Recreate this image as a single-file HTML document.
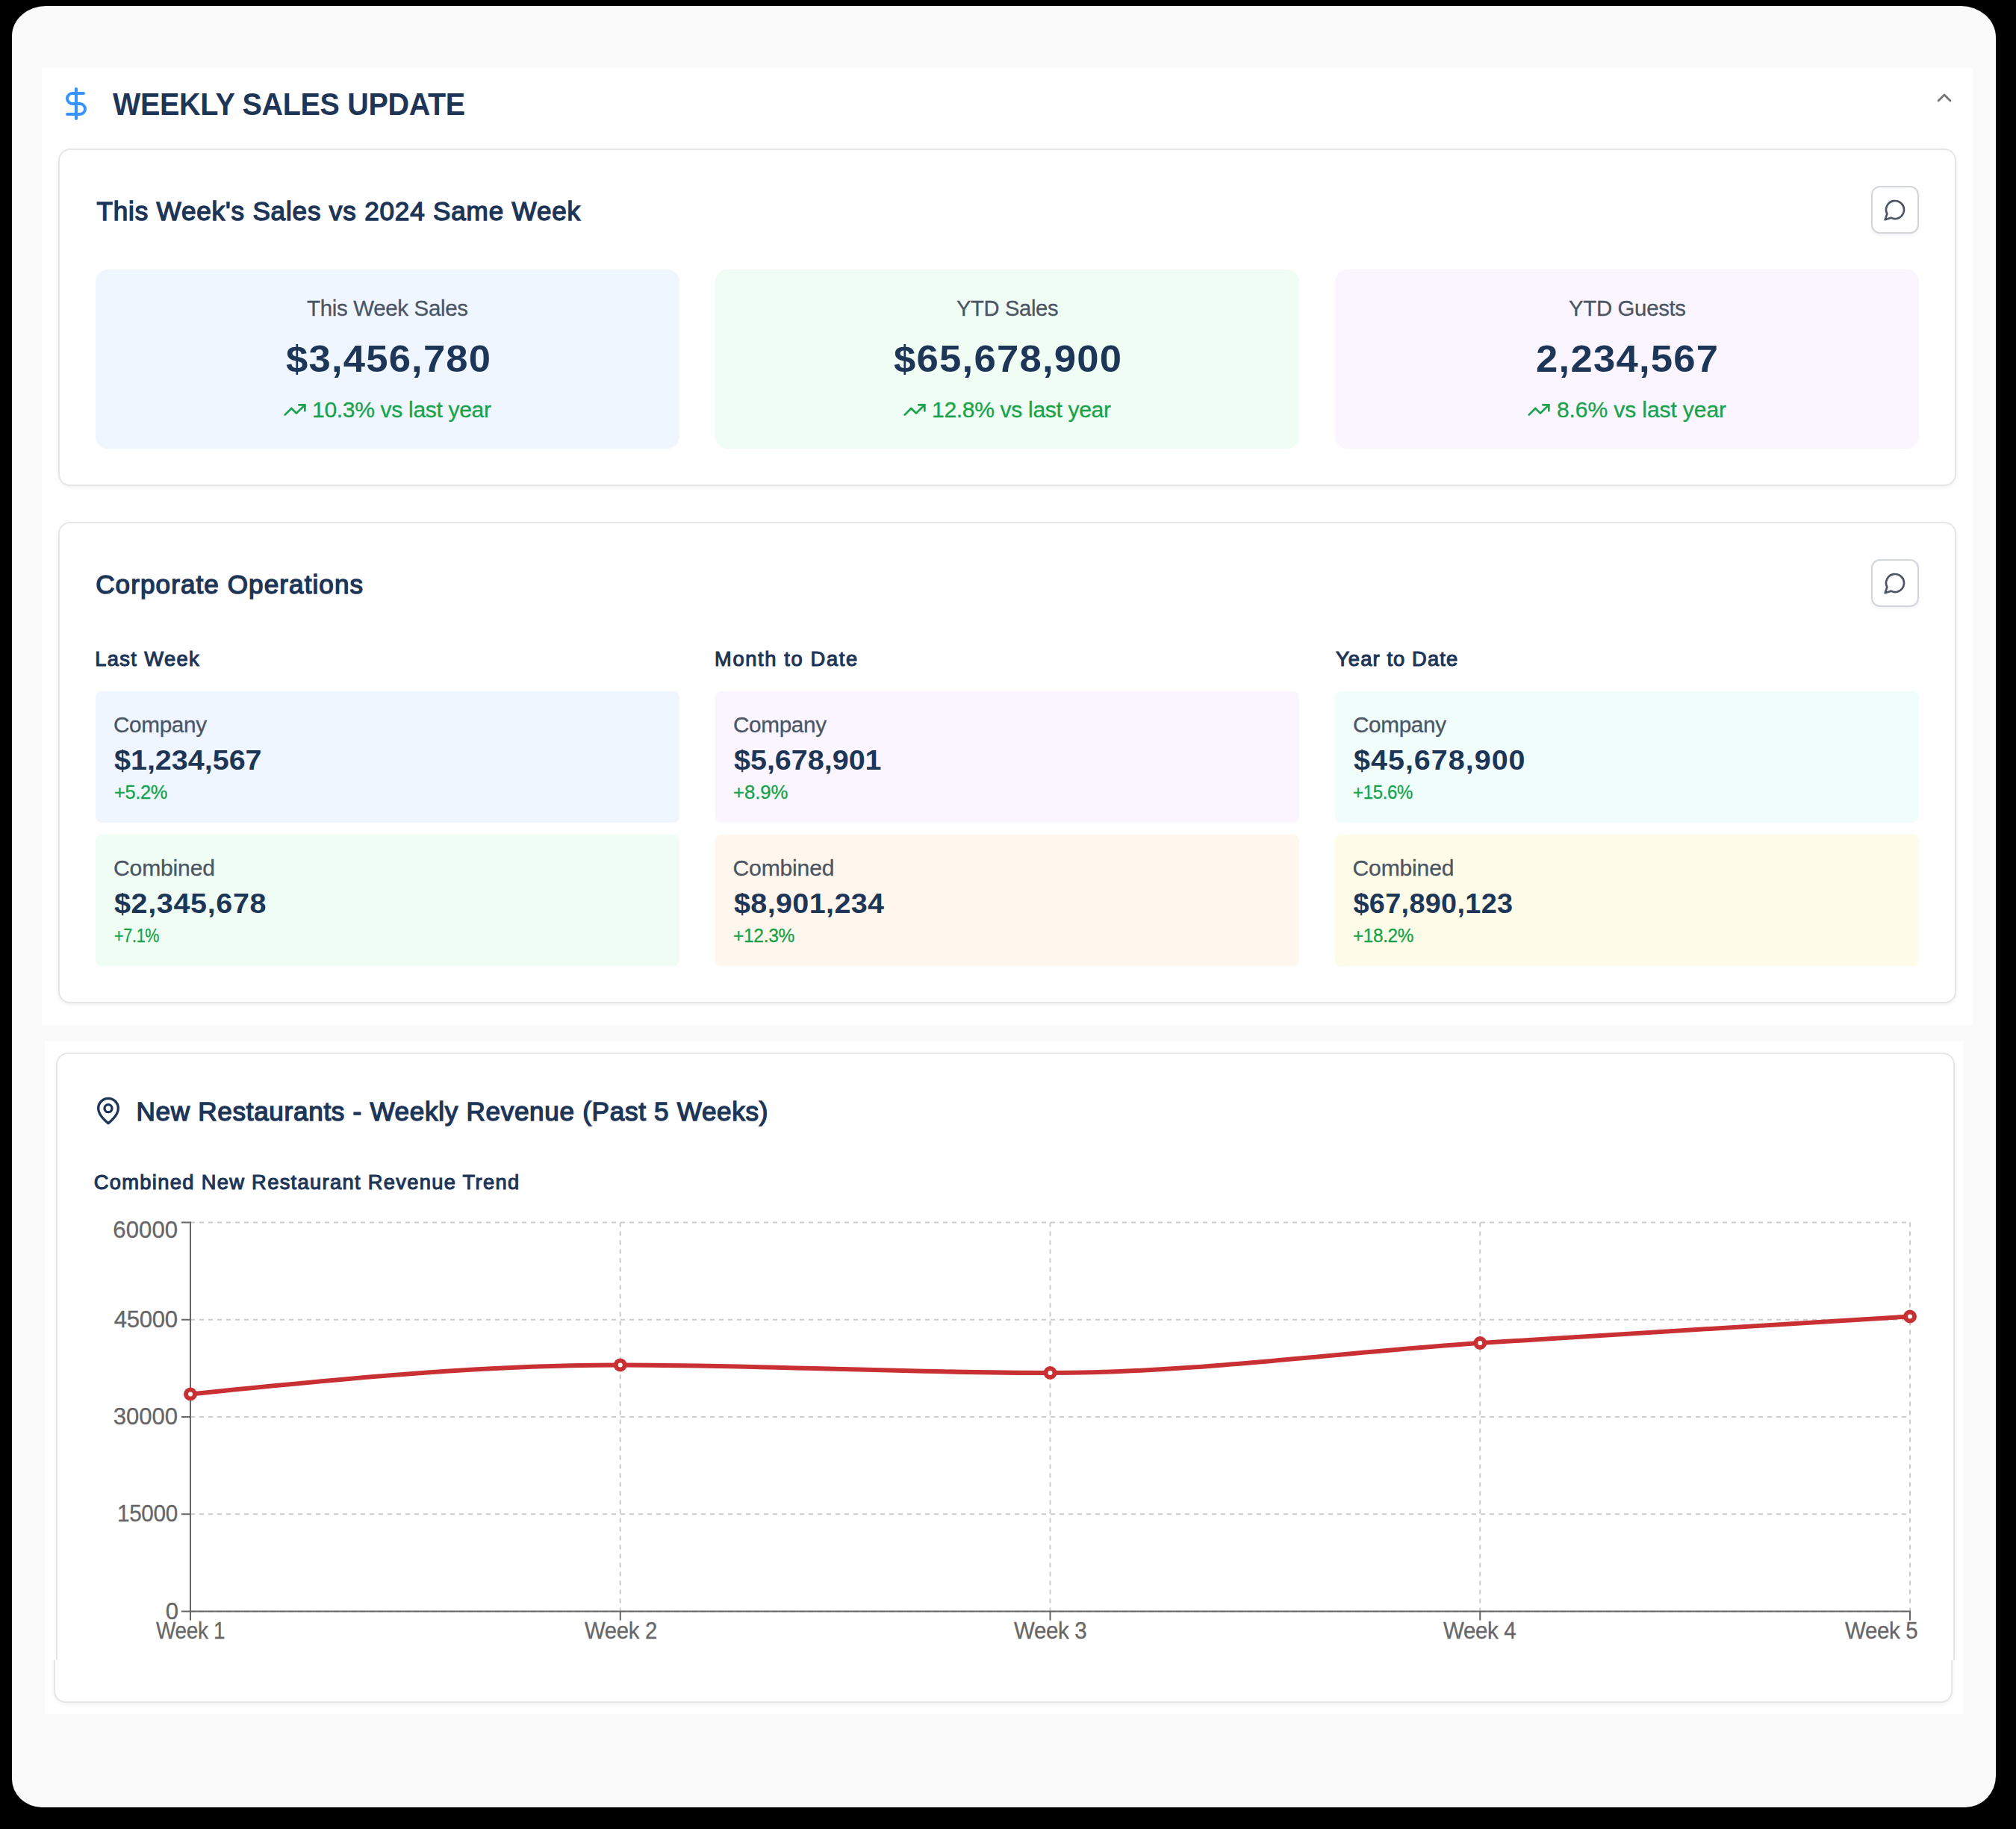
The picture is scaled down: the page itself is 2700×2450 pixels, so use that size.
<!DOCTYPE html>
<html lang="en"><head><meta charset="utf-8"><title>Weekly Sales Update</title>
<style>
html,body{margin:0;padding:0}
body{width:2700px;height:2450px;background:#000;position:relative;overflow:hidden;font-family:"Liberation Sans",sans-serif}
.page{position:absolute;left:16px;top:8px;width:2657px;height:2413px;background:#fafafa;border-radius:46px 47px 41px 40px / 40px 42px 42px 38px}
.sec{position:absolute;background:#fff}
.card{position:absolute;background:#fff;border:2px solid #e6e6e6;border-radius:16px;box-shadow:0 2px 5px rgba(0,0,0,.06)}
.bx{position:absolute}
.btn{position:absolute;width:60px;height:60px;border:2px solid #d2d6dc;border-radius:12px;background:#fff;box-shadow:0 2px 4px rgba(0,0,0,.06)}
.t{position:absolute;margin:0;padding:0;font-weight:400;white-space:nowrap;line-height:1;transform-origin:0 0}
.ic,.chart{position:absolute;overflow:visible}
.chart{left:0;top:0}
</style></head><body>
<main>
<div class="page"></div>
<section aria-label="Weekly sales update">
<div class="sec" style="left:55.5px;top:91px;width:2586.5px;height:1282px"></div>
<header>
<svg class="ic" style="left:77.60px;top:115.30px" width="48" height="48" viewBox="0 0 24 24" fill="none" stroke="#3794ff" stroke-width="2" stroke-linecap="round" stroke-linejoin="round"><line x1="12" y1="2" x2="12" y2="22"/><path d="M17 5H9.5a3.5 3.5 0 0 0 0 7h5a3.5 3.5 0 0 1 0 7H6"/></svg>
<h1 class="t" style="left:150.50px;top:118.89px;font-size:42.00px;letter-spacing:-0.350px;color:#1d3557;font-weight:700;transform:scaleX(0.9413);">WEEKLY SALES UPDATE</h1>
<svg class="ic" style="left:2587.60px;top:115.10px" width="32" height="32" viewBox="0 0 24 24" fill="none" stroke="#737373" stroke-width="2" stroke-linecap="round" stroke-linejoin="round"><path d="m18 15-6-6-6 6"/></svg>
</header>
<article>
<div class="card" style="left:78.00px;top:199.20px;width:2538.00px;height:448.10px;"></div>
<div class="btn" style="left:2506px;top:249px"></div>
<svg class="ic" style="left:2521.70px;top:265.30px" width="32" height="32" viewBox="0 0 24 24" fill="none" stroke="#4b5563" stroke-width="2" stroke-linecap="round" stroke-linejoin="round"><path d="M7.9 20A9 9 0 1 0 4 16.1L2 22Z"/></svg>
<div class="bx" style="left:127.75px;top:361.25px;width:781.75px;height:239.75px;background:#eff6ff;border-radius:16px"></div>
<div class="bx" style="left:957.50px;top:361.25px;width:782.00px;height:239.75px;background:#f0fdf4;border-radius:16px"></div>
<div class="bx" style="left:1787.50px;top:361.25px;width:782.00px;height:239.75px;background:#faf5ff;border-radius:16px"></div>
<svg class="ic" style="left:378.70px;top:532.75px" width="32" height="32" viewBox="0 0 24 24" fill="none" stroke="#16a34a" stroke-width="2" stroke-linecap="round" stroke-linejoin="round"><polyline points="22 7 13.5 15.5 8.5 10.5 2 17"/><polyline points="16 7 22 7 22 13"/></svg>
<svg class="ic" style="left:1208.70px;top:532.75px" width="32" height="32" viewBox="0 0 24 24" fill="none" stroke="#16a34a" stroke-width="2" stroke-linecap="round" stroke-linejoin="round"><polyline points="22 7 13.5 15.5 8.5 10.5 2 17"/><polyline points="16 7 22 7 22 13"/></svg>
<svg class="ic" style="left:2044.70px;top:532.75px" width="32" height="32" viewBox="0 0 24 24" fill="none" stroke="#16a34a" stroke-width="2" stroke-linecap="round" stroke-linejoin="round"><polyline points="22 7 13.5 15.5 8.5 10.5 2 17"/><polyline points="16 7 22 7 22 13"/></svg>
<h2 class="t" style="left:129.44px;top:264.54px;font-size:35.10px;letter-spacing:0.827px;color:#1d3557;-webkit-text-stroke:1.39px #1d3557;">This Week&#39;s Sales vs 2024 Same Week</h2>
<p class="t" style="left:411.25px;top:397.96px;font-size:30.10px;letter-spacing:-0.350px;color:#4b5563;-webkit-text-stroke:0.30px #4b5563;transform:scaleX(0.9805);">This Week Sales</p>
<p class="t" style="left:382.50px;top:455.73px;font-size:50.40px;letter-spacing:1.124px;color:#1d3557;font-weight:700;transform:scaleX(1.0450);">$3,456,780</p>
<p class="t" style="left:418.00px;top:534.21px;font-size:30.10px;letter-spacing:-0.345px;color:#16a34a;-webkit-text-stroke:0.30px #16a34a;">10.3% vs last year</p>
<p class="t" style="left:1281.00px;top:397.96px;font-size:30.10px;letter-spacing:-0.350px;color:#4b5563;-webkit-text-stroke:0.30px #4b5563;transform:scaleX(0.9680);">YTD Sales</p>
<p class="t" style="left:1197.00px;top:455.73px;font-size:50.40px;letter-spacing:1.175px;color:#1d3557;font-weight:700;transform:scaleX(1.0450);">$65,678,900</p>
<p class="t" style="left:1248.00px;top:534.21px;font-size:30.10px;letter-spacing:-0.345px;color:#16a34a;-webkit-text-stroke:0.30px #16a34a;">12.8% vs last year</p>
<p class="t" style="left:2101.00px;top:397.96px;font-size:30.10px;letter-spacing:-0.350px;color:#4b5563;-webkit-text-stroke:0.30px #4b5563;transform:scaleX(0.9769);">YTD Guests</p>
<p class="t" style="left:2057.45px;top:455.73px;font-size:50.40px;letter-spacing:1.184px;color:#1d3557;font-weight:700;transform:scaleX(1.0450);">2,234,567</p>
<p class="t" style="left:2085.00px;top:534.21px;font-size:30.10px;letter-spacing:-0.133px;color:#16a34a;-webkit-text-stroke:0.30px #16a34a;">8.6% vs last year</p>
</article>
<article>
<div class="card" style="left:78.00px;top:699.30px;width:2538.00px;height:640.50px;"></div>
<div class="btn" style="left:2506px;top:749px"></div>
<svg class="ic" style="left:2521.70px;top:765.30px" width="32" height="32" viewBox="0 0 24 24" fill="none" stroke="#4b5563" stroke-width="2" stroke-linecap="round" stroke-linejoin="round"><path d="M7.9 20A9 9 0 1 0 4 16.1L2 22Z"/></svg>
<div class="bx" style="left:127.75px;top:926.25px;width:781.75px;height:175.85px;background:#eff6ff;border-radius:8px"></div>
<div class="bx" style="left:127.75px;top:1118.25px;width:781.75px;height:175.75px;background:#f0fdf4;border-radius:8px"></div>
<div class="bx" style="left:957.50px;top:926.25px;width:782.00px;height:175.85px;background:#faf5ff;border-radius:8px"></div>
<div class="bx" style="left:957.50px;top:1118.25px;width:782.00px;height:175.75px;background:#fff7ed;border-radius:8px"></div>
<div class="bx" style="left:1787.50px;top:926.25px;width:782.00px;height:175.85px;background:#f0fdfa;border-radius:8px"></div>
<div class="bx" style="left:1787.50px;top:1118.25px;width:782.00px;height:175.75px;background:#fefce8;border-radius:8px"></div>
<h2 class="t" style="left:128.19px;top:765.19px;font-size:35.10px;letter-spacing:1.083px;color:#1d3557;-webkit-text-stroke:1.39px #1d3557;">Corporate Operations</h2>
<h3 class="t" style="left:127.29px;top:869.45px;font-size:27.30px;letter-spacing:1.358px;color:#1d3557;-webkit-text-stroke:1.08px #1d3557;">Last Week</h3>
<h3 class="t" style="left:957.04px;top:869.45px;font-size:27.30px;letter-spacing:1.637px;color:#1d3557;-webkit-text-stroke:1.08px #1d3557;">Month to Date</h3>
<h3 class="t" style="left:1789.04px;top:869.45px;font-size:27.30px;letter-spacing:1.123px;color:#1d3557;-webkit-text-stroke:1.08px #1d3557;">Year to Date</h3>
<p class="t" style="left:152.01px;top:955.61px;font-size:30.10px;letter-spacing:-0.350px;color:#4b5563;-webkit-text-stroke:0.30px #4b5563;transform:scaleX(0.9869);">Company</p>
<p class="t" style="left:153.00px;top:999.99px;font-size:37.80px;letter-spacing:-0.012px;color:#1d3557;font-weight:700;transform:scaleX(1.0450);">$1,234,567</p>
<p class="t" style="left:152.51px;top:1049.41px;font-size:25.80px;letter-spacing:-0.350px;color:#16a34a;-webkit-text-stroke:0.30px #16a34a;transform:scaleX(0.9857);">+5.2%</p>
<p class="t" style="left:152.00px;top:1147.61px;font-size:30.10px;letter-spacing:-0.169px;color:#4b5563;-webkit-text-stroke:0.30px #4b5563;">Combined</p>
<p class="t" style="left:153.00px;top:1191.99px;font-size:37.80px;letter-spacing:0.626px;color:#1d3557;font-weight:700;transform:scaleX(1.0450);">$2,345,678</p>
<p class="t" style="left:152.66px;top:1241.41px;font-size:25.80px;letter-spacing:-0.350px;color:#16a34a;-webkit-text-stroke:0.30px #16a34a;transform:scaleX(0.8354);">+7.1%</p>
<p class="t" style="left:981.51px;top:955.61px;font-size:30.10px;letter-spacing:-0.350px;color:#4b5563;-webkit-text-stroke:0.30px #4b5563;transform:scaleX(0.9869);">Company</p>
<p class="t" style="left:982.50px;top:999.99px;font-size:37.80px;letter-spacing:-0.012px;color:#1d3557;font-weight:700;transform:scaleX(1.0450);">$5,678,901</p>
<p class="t" style="left:982.00px;top:1049.41px;font-size:25.80px;letter-spacing:-0.107px;color:#16a34a;-webkit-text-stroke:0.30px #16a34a;">+8.9%</p>
<p class="t" style="left:981.50px;top:1147.61px;font-size:30.10px;letter-spacing:-0.169px;color:#4b5563;-webkit-text-stroke:0.30px #4b5563;">Combined</p>
<p class="t" style="left:982.50px;top:1191.99px;font-size:37.80px;letter-spacing:0.355px;color:#1d3557;font-weight:700;transform:scaleX(1.0450);">$8,901,234</p>
<p class="t" style="left:982.05px;top:1241.41px;font-size:25.80px;letter-spacing:-0.350px;color:#16a34a;-webkit-text-stroke:0.30px #16a34a;transform:scaleX(0.9530);">+12.3%</p>
<p class="t" style="left:1811.51px;top:955.61px;font-size:30.10px;letter-spacing:-0.350px;color:#4b5563;-webkit-text-stroke:0.30px #4b5563;transform:scaleX(0.9869);">Company</p>
<p class="t" style="left:1812.50px;top:999.99px;font-size:37.80px;letter-spacing:0.949px;color:#1d3557;font-weight:700;transform:scaleX(1.0450);">$45,678,900</p>
<p class="t" style="left:1812.07px;top:1049.41px;font-size:25.80px;letter-spacing:-0.350px;color:#16a34a;-webkit-text-stroke:0.30px #16a34a;transform:scaleX(0.9296);">+15.6%</p>
<p class="t" style="left:1811.50px;top:1147.61px;font-size:30.10px;letter-spacing:-0.169px;color:#4b5563;-webkit-text-stroke:0.30px #4b5563;">Combined</p>
<p class="t" style="left:1812.50px;top:1191.99px;font-size:37.80px;letter-spacing:0.333px;color:#1d3557;font-weight:700;">$67,890,123</p>
<p class="t" style="left:1812.06px;top:1241.41px;font-size:25.80px;letter-spacing:-0.350px;color:#16a34a;-webkit-text-stroke:0.30px #16a34a;transform:scaleX(0.9413);">+18.2%</p>
</article>
</section>
<section aria-label="New restaurants">
<div class="sec" style="left:60.2px;top:1394.7px;width:2570px;height:901.5px"></div>
<article>
<div class="card" style="left:75.00px;top:1410.00px;width:2539.00px;height:867.00px;clip-path:inset(-20px -20px 57.2px -20px)"></div>
<div class="card" style="left:72.00px;top:1410.00px;width:2539.00px;height:867.00px;clip-path:inset(813.8px -20px -20px -20px)"></div>
<svg class="ic" style="left:125.00px;top:1468.05px" width="40" height="40" viewBox="0 0 24 24" fill="none" stroke="#1d3557" stroke-width="2" stroke-linecap="round" stroke-linejoin="round"><path d="M20 10c0 6-8 12-8 12s-8-6-8-12a8 8 0 0 1 16 0Z"/><circle cx="12" cy="10" r="3"/></svg>
<svg class="chart" role="img" aria-label="Combined new restaurant revenue trend" width="2700" height="2450" viewBox="0 0 2700 2450">
<g stroke="#cccccc" stroke-width="2" stroke-dasharray="6 6" fill="none">
<line x1="255.00" y1="1637.50" x2="2558.00" y2="1637.50"/>
<line x1="255.00" y1="1767.75" x2="2558.00" y2="1767.75"/>
<line x1="255.00" y1="1898.00" x2="2558.00" y2="1898.00"/>
<line x1="255.00" y1="2028.25" x2="2558.00" y2="2028.25"/>
<line x1="255.00" y1="2158.50" x2="2558.00" y2="2158.50"/>
<line x1="255.00" y1="1637.50" x2="255.00" y2="2158.50"/>
<line x1="830.75" y1="1637.50" x2="830.75" y2="2158.50"/>
<line x1="1406.50" y1="1637.50" x2="1406.50" y2="2158.50"/>
<line x1="1982.25" y1="1637.50" x2="1982.25" y2="2158.50"/>
<line x1="2558.00" y1="1637.50" x2="2558.00" y2="2158.50"/>
</g>
<g stroke="#666666" stroke-width="2" fill="none">
<line x1="255.00" y1="1636.50" x2="255.00" y2="2158.50"/>
<line x1="255.00" y1="2158.50" x2="2559.00" y2="2158.50"/>
<line x1="243.00" y1="1637.50" x2="255.00" y2="1637.50"/>
<line x1="243.00" y1="1767.75" x2="255.00" y2="1767.75"/>
<line x1="243.00" y1="1898.00" x2="255.00" y2="1898.00"/>
<line x1="243.00" y1="2028.25" x2="255.00" y2="2028.25"/>
<line x1="243.00" y1="2158.50" x2="255.00" y2="2158.50"/>
<line x1="255.00" y1="2158.50" x2="255.00" y2="2170.50"/>
<line x1="830.75" y1="2158.50" x2="830.75" y2="2170.50"/>
<line x1="1406.50" y1="2158.50" x2="1406.50" y2="2170.50"/>
<line x1="1982.25" y1="2158.50" x2="1982.25" y2="2170.50"/>
<line x1="2558.00" y1="2158.50" x2="2558.00" y2="2170.50"/>
</g>
<path d="M255.00,1867.50C446.92,1848.00,638.83,1828.50,830.75,1828.50C1022.67,1828.50,1214.58,1839.00,1406.50,1839.00C1598.42,1839.00,1790.33,1811.58,1982.25,1799.00C2174.17,1786.42,2366.08,1774.96,2558.00,1763.50" fill="none" stroke="#c93034" stroke-width="6" stroke-linecap="round"/>
<circle cx="255.00" cy="1867.50" r="6" fill="#fff" stroke="#c93034" stroke-width="6"/>
<circle cx="830.75" cy="1828.50" r="6" fill="#fff" stroke="#c93034" stroke-width="6"/>
<circle cx="1406.50" cy="1839.00" r="6" fill="#fff" stroke="#c93034" stroke-width="6"/>
<circle cx="1982.25" cy="1799.00" r="6" fill="#fff" stroke="#c93034" stroke-width="6"/>
<circle cx="2558.00" cy="1763.50" r="6" fill="#fff" stroke="#c93034" stroke-width="6"/>
</svg>
<h2 class="t" style="left:182.49px;top:1471.29px;font-size:35.10px;letter-spacing:0.704px;color:#1d3557;-webkit-text-stroke:1.39px #1d3557;">New Restaurants - Weekly Revenue (Past 5 Weeks)</h2>
<h3 class="t" style="left:125.79px;top:1569.55px;font-size:27.30px;letter-spacing:1.317px;color:#1d3557;-webkit-text-stroke:1.08px #1d3557;">Combined New Restaurant Revenue Trend</h3>
<span class="t" style="left:151.25px;top:1632.48px;font-size:31.08px;letter-spacing:0.091px;color:#666666;-webkit-text-stroke:0.30px #666666;">60000</span>
<span class="t" style="left:152.75px;top:1751.83px;font-size:31.08px;letter-spacing:-0.284px;color:#666666;-webkit-text-stroke:0.30px #666666;">45000</span>
<span class="t" style="left:151.75px;top:1882.08px;font-size:31.08px;letter-spacing:-0.034px;color:#666666;-webkit-text-stroke:0.30px #666666;">30000</span>
<span class="t" style="left:156.84px;top:2012.33px;font-size:31.08px;letter-spacing:-0.350px;color:#666666;-webkit-text-stroke:0.30px #666666;transform:scaleX(0.9548);">15000</span>
<span class="t" style="left:221.75px;top:2142.58px;font-size:31.08px;letter-spacing:0.000px;color:#666666;-webkit-text-stroke:0.30px #666666;">0</span>
<span class="t" style="left:209.25px;top:2168.58px;font-size:31.08px;letter-spacing:-0.350px;color:#666666;-webkit-text-stroke:0.30px #666666;transform:scaleX(0.8972);">Week 1</span>
<span class="t" style="left:782.65px;top:2168.58px;font-size:31.08px;letter-spacing:-0.350px;color:#666666;-webkit-text-stroke:0.30px #666666;transform:scaleX(0.9434);">Week 2</span>
<span class="t" style="left:1358.15px;top:2168.58px;font-size:31.08px;letter-spacing:-0.350px;color:#666666;-webkit-text-stroke:0.30px #666666;transform:scaleX(0.9483);">Week 3</span>
<span class="t" style="left:1933.40px;top:2168.58px;font-size:31.08px;letter-spacing:-0.350px;color:#666666;-webkit-text-stroke:0.30px #666666;transform:scaleX(0.9488);">Week 4</span>
<span class="t" style="left:2470.50px;top:2168.58px;font-size:31.08px;letter-spacing:-0.350px;color:#666666;-webkit-text-stroke:0.30px #666666;transform:scaleX(0.9483);">Week 5</span>
</article>
</section>
</main>
</body></html>
